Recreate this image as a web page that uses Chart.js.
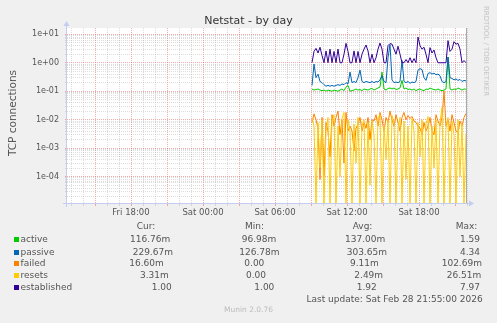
<!DOCTYPE html>
<html>
<head>
<meta charset="utf-8">
<script src="https://cdn.jsdelivr.net/npm/chart.js@4.4.1/dist/chart.umd.min.js"></script>
<style>
html, body { margin: 0; padding: 0; background: #f0f0f0; }
#wrap { position: relative; width: 497px; height: 323px; overflow: hidden; font-family: "DejaVu Sans", sans-serif; color: #555; }
#c { position: absolute; left: 0; top: 0; }
.t { position: absolute; white-space: pre; line-height: 12px; font-size: 9px; }
.sq { position: absolute; width: 5px; height: 5px; }
#title { position: absolute; left: 0; top: 14px; width: 497px; text-align: center; font-size: 11px; line-height: 14px; color: #333; }
#ylab { position: absolute; left: -68px; top: 106px; width: 160px; height: 14px; line-height: 14px; text-align: center; font-size: 10.5px; transform: rotate(-90deg); }
#rrd { position: absolute; left: 426px; top: 46px; width: 120px; height: 10px; line-height: 10px; text-align: center; font-size: 7px; color: #c4c4c4; transform: rotate(90deg); }
#munin { position: absolute; left: 0; top: 305px; width: 497px; text-align: center; font-size: 7.5px; line-height: 10px; color: #bbb; }
</style>
</head>
<body>
<div id="wrap">
  <canvas id="c" width="497" height="323"></canvas>
  <div id="title">Netstat - by day</div>
  <div id="ylab">TCP connections</div>
  <div id="rrd">RRDTOOL / TOBI OETIKER</div>
  <div id="legend"></div>
  <div id="munin">Munin 2.0.76</div>
</div>
<script>
// muestras cada 10 minutos, desde Sat 09:05 (minutos contados desde Fri 00:00)
const startMinute = 1985;
const stepMinutes = 10;

const seriesNames = ["active", "passive", "failed", "resets", "established"];
const seriesColors = ["#00CC00", "#0066B3", "#FF8000", "#FFCC00", "#330099"];

const active = [
  0.12, 0.11, 0.115, 0.12, 0.11, 0.105, 0.11, 0.1, 0.11, 0.105,
  0.1, 0.11, 0.105, 0.1, 0.11, 0.12, 0.105, 0.14, 0.16, 0.1,
  0.105, 0.11, 0.12, 0.11, 0.115, 0.105, 0.12, 0.115, 0.11, 0.12,
  0.125, 0.11, 0.12, 0.13, 0.14, 0.47, 0.12, 0.11, 0.125, 0.13,
  0.12, 0.13, 0.115, 0.12, 0.13, 0.24, 0.12, 0.13, 0.115, 0.12,
  0.11, 0.12, 0.105, 0.115, 0.12, 0.11, 0.105, 0.12, 0.115, 0.13,
  0.12, 0.115, 0.11, 0.12, 0.11, 0.105, 0.11, 0.12, 1.59, 0.12,
  0.11, 0.12, 0.115, 0.13, 0.12, 0.11, 0.12, 0.117
];
const passive = [
  0.16, 0.9, 0.3, 0.4, 0.22, 0.2, 0.17, 0.15, 0.16, 0.15,
  0.16, 0.15, 0.16, 0.17, 0.16, 0.18, 0.17, 0.2, 0.18, 0.47,
  0.2, 0.22, 0.2, 0.3, 0.55, 0.22, 0.2, 0.22, 0.21, 0.2,
  0.22, 0.2, 0.22, 0.21, 0.25, 0.35, 0.22, 0.2, 1.5, 4.34,
  0.25, 0.2, 0.21, 0.2, 0.22, 1.2, 0.22, 0.2, 0.22, 0.19,
  0.21, 0.2, 0.22, 0.55, 0.62, 0.58, 0.3, 0.24, 0.42, 0.45,
  0.4, 0.43, 0.38, 0.4, 0.35, 0.22, 0.2, 0.22, 1.57, 0.3,
  0.28, 0.25, 0.27, 0.24, 0.26, 0.22, 0.24, 0.23
];
const failed = [
  0.008, 0.016, 0.01, 0.005, 0.00008, 0.012, 0.0001, 0.008, 0.004, 0.0005,
  0.015, 0.006, 0.012, 0.02, 0.003, 0.01, 0.0003, 0.018, 0.004, 0.006,
  0.004, 0.0008, 0.005, 0.007, 0.012, 0.004, 0.008, 0.005, 0.012, 0.002,
  0.01, 0.009, 0.015, 0.006, 0.018, 0.01, 0.004, 0.012, 0.008, 0.02,
  0.01, 0.006, 0.015, 0.008, 0.004, 0.012, 0.018, 0.01, 0.014, 0.011,
  0.013, 0.009, 0.008, 0.006, 0.005, 0.003, 0.008, 0.004, 0.006, 0.012,
  0.004, 0.003, 0.015, 0.009, 0.006, 0.012, 0.1027, 0.006, 0.01, 0.004,
  0.015, 0.008, 0.004, 0.0035, 0.009, 0.006, 0.012, 0.0166
];
const resets = [
  0.012, 0.006, 0, 0.008, 0.0002, 0.01, 0, 0.004, 0.012, 0,
  0.009, 0.015, 0, 0.006, 0.0001, 0.011, 0.018, 0, 0.01, 0.004,
  0, 0.007, 0.0003, 0.012, 0, 0.006, 0.01, 0, 0.008, 0.00005,
  0.009, 0.003, 0, 0.012, 0.015, 0, 0.006, 0.0004, 0.01, 0,
  0.014, 0.008, 0, 0.005, 0.012, 0, 0.009, 0.00008, 0.006, 0,
  0.011, 0.004, 0, 0.008, 0.0005, 0.01, 0, 0.007, 0.013, 0,
  0.006, 0.0002, 0.01, 0, 0.008, 0.0265, 0, 0.005, 0.012, 0,
  0.009, 0.003, 0, 0.01, 0.0001, 0.007, 0, 0.0033
];
const established = [
  1, 2.5, 3.2, 2.2, 3.5, 1.8, 1, 2.6, 1, 3,
  1, 2.5, 1, 3, 1, 1, 2, 4.8, 2.5, 1,
  1, 2.6, 1, 2.5, 1, 2, 3, 4.2, 2.6, 1,
  2, 1, 1.5, 3, 4.9, 3, 1, 1, 4, 4.7,
  4.5, 3, 2, 3.8, 2, 1, 1, 1.3, 1, 1.5,
  1, 1.4, 1, 7.97, 4, 3, 3.5, 2, 1, 3.4,
  2.2, 2.8, 1.5, 1, 1, 1, 1, 1, 6, 2.5,
  3, 5.5, 4.5, 4.8, 3, 1, 1.2, 1
];
const seriesValues = [active, passive, failed, resets, established];

// tabla de la leyenda
const legendCur = ["116.76m", "229.67m", "16.60m", "3.31m", "1.00"];
const legendMin = ["96.98m", "126.78m", "0.00", "0.00", "1.00"];
const legendAvg = ["137.00m", "303.65m", "9.11m", "2.49m", "1.92"];
const legendMax = ["1.59", "4.34", "102.69m", "26.51m", "7.97"];
const legendHeaders = ["Cur:", "Min:", "Avg:", "Max:"];
const lastUpdate = "Last update: Sat Feb 28 21:55:00 2026";

// etiquetas de los ejes
const xTickMinutes = [1080, 1440, 1800, 2160, 2520];
const xTickLabels = ["Fri 18:00", "Sat 00:00", "Sat 06:00", "Sat 12:00", "Sat 18:00"];
const yTickValues = [1e-4, 1e-3, 1e-2, 1e-1, 1, 10];
const yTickLabels = ["1e-04", "1e-03", "1e-02", "1e-01", "1e+00", "1e+01"];

// --- disposición ---
const X_MIN = 760, X_MAX = 2760;
const Y_MIN = 1.19e-5, Y_MAX = 16.6;
const drawOrder = [4, 3, 2, 1, 0];

const headerX = [136.7, 245, 352.7, 455.7];
const cellX = [
  [130, 241.7, 345, 460],
  [132.7, 239.3, 346.7, 460],
  [129.3, 244.3, 350, 441.7],
  [140, 246, 354.3, 446.7],
  [151.7, 254.3, 356.7, 460]
];
const rowTop = [233.3, 245.7, 257, 269, 281.3];

function buildLegend() {
  const box = document.getElementById("legend");
  const add = (txt, x, y) => {
    const s = document.createElement("span");
    s.className = "t";
    s.textContent = txt;
    s.style.left = x + "px";
    s.style.top = y + "px";
    box.appendChild(s);
  };
  legendHeaders.forEach((h, j) => add(h, headerX[j], 220));
  seriesNames.forEach((n, k) => {
    const sq = document.createElement("span");
    sq.className = "sq";
    sq.style.left = "14px";
    sq.style.top = (rowTop[k] + 4) + "px";
    sq.style.background = seriesColors[k];
    box.appendChild(sq);
    add(n, 20.5, rowTop[k]);
    [legendCur, legendMin, legendAvg, legendMax].forEach((col, j) => add(col[k], cellX[k][j], rowTop[k]));
  });
  add(lastUpdate, 306.5, 293);
}
buildLegend();

const puntos = (arr) => arr.map((v, i) => ({ x: startMinute + i * stepMinutes, y: v === 0 ? Y_MIN : v }));
const esPotencia = (v) => Math.abs(Math.log10(v) - Math.round(Math.log10(v))) < 1e-6;

const fondo = {
  id: "fondo",
  beforeDraw(chart) {
    const { ctx, chartArea: a } = chart;
    ctx.save();
    ctx.fillStyle = "#ffffff";
    ctx.fillRect(a.left, a.top, a.right - a.left, a.bottom - a.top);
    ctx.restore();
  },
  afterDraw(chart) {
    const { ctx, chartArea: a } = chart;
    ctx.save();
    // borde derecho
    ctx.strokeStyle = "#a8a8a8";
    ctx.lineWidth = 1;
    ctx.beginPath();
    ctx.moveTo(a.right - 0.5, a.top);
    ctx.lineTo(a.right - 0.5, a.bottom);
    ctx.stroke();
    // ejes con flecha
    ctx.strokeStyle = "#c4ccf2";
    ctx.fillStyle = "#c4ccf2";
    ctx.beginPath();
    ctx.moveTo(a.left - 0.5, a.bottom + 4);
    ctx.lineTo(a.left - 0.5, a.top - 2);
    ctx.moveTo(a.left - 4, a.bottom + 0.5);
    ctx.lineTo(a.right + 2, a.bottom + 0.5);
    ctx.stroke();
    ctx.beginPath();
    ctx.moveTo(a.left - 0.5, a.top - 7);
    ctx.lineTo(a.left - 3.5, a.top - 2);
    ctx.lineTo(a.left + 2.5, a.top - 2);
    ctx.closePath();
    ctx.fill();
    ctx.beginPath();
    ctx.moveTo(a.right + 7, a.bottom + 0.5);
    ctx.lineTo(a.right + 2, a.bottom - 2.5);
    ctx.lineTo(a.right + 2, a.bottom + 3.5);
    ctx.closePath();
    ctx.fill();
    ctx.restore();
  }
};

const colorX = (c) => (c.tick && c.tick.value % 180 === 0 ? "rgba(235,90,90,0.5)" : "rgba(150,150,150,0.32)");
const colorY = (c) => (c.tick && esPotencia(c.tick.value) ? "rgba(235,90,90,0.5)" : "rgba(150,150,150,0.32)");

new Chart(document.getElementById("c"), {
  type: "line",
  data: {
    datasets: seriesNames.map((n, k) => ({
      label: n,
      data: puntos(seriesValues[k]),
      borderColor: seriesColors[k],
      backgroundColor: "transparent",
      borderWidth: 1,
      pointRadius: 0,
      tension: 0,
      fill: false,
      order: drawOrder[k]
    }))
  },
  options: {
    responsive: false,
    animation: false,
    events: [],
    layout: { padding: { left: 0, right: 30, top: 28, bottom: 100 } },
    plugins: { legend: { display: false }, tooltip: { enabled: false } },
    scales: {
      x: {
        type: "linear",
        min: X_MIN,
        max: X_MAX,
        afterBuildTicks: (s) => {
          const t = [];
          for (let m = 780; m <= X_MAX; m += 60) t.push({ value: m });
          s.ticks = t;
        },
        afterFit: (s) => { s.height = 20; },
        ticks: {
          autoSkip: false,
          maxRotation: 0,
          padding: 2,
          color: "#555",
          font: { family: "DejaVu Sans", size: 8.5 },
          callback: (v) => {
            const k = xTickMinutes.indexOf(v);
            return k >= 0 ? xTickLabels[k] : "";
          }
        },
        grid: { color: colorX, tickColor: colorX, tickLength: 3, lineWidth: 1 },
        border: { display: false, dash: [1, 1] }
      },
      y: {
        type: "logarithmic",
        min: Y_MIN,
        max: Y_MAX,
        afterBuildTicks: (s) => {
          const t = [];
          for (let e = -5; e <= 1; e++) {
            for (let k = 1; k <= 9; k++) {
              const v = k * Math.pow(10, e);
              if (v >= Y_MIN && v <= Y_MAX) t.push({ value: v });
            }
          }
          s.ticks = t;
        },
        afterFit: (s) => { s.width = 67; },
        ticks: {
          autoSkip: false,
          padding: 6,
          color: "#555",
          font: { family: "DejaVu Sans", size: 8 },
          callback: (v) => {
            const k = yTickValues.findIndex((t) => Math.abs(t - v) / t < 1e-6);
            return k >= 0 ? yTickLabels[k] : "";
          }
        },
        grid: { color: colorY, tickColor: colorY, tickLength: 2, lineWidth: 1 },
        border: { display: false, dash: [1, 1] }
      }
    }
  },
  plugins: [fondo]
});
</script>
</body>
</html>
